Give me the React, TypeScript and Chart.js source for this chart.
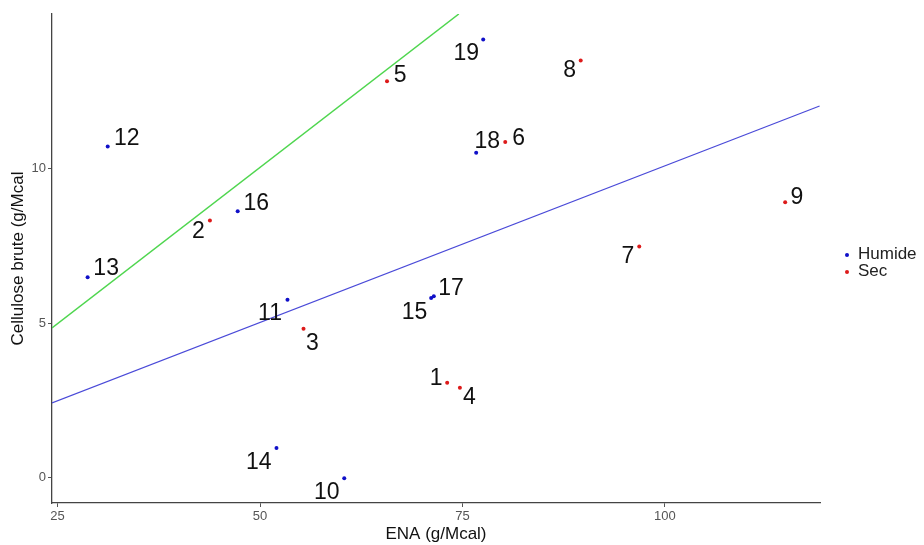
import React, { useEffect, useRef } from "react";
import { Chart, registerables } from "chart.js";

Chart.register(...registerables);

// Data
const humideIds = ["10", "11", "12", "13", "14", "15", "16", "17", "18", "19"];
const humideX = [60.4, 53.39, 31.19, 28.71, 52.03, 71.13, 47.24, 71.46, 76.69, 77.56];
const humideY = [-0.01, 5.75, 10.7, 6.48, 0.97, 5.81, 8.61, 5.87, 10.5, 14.16];

const secIds = ["1", "2", "3", "4", "5", "6", "7", "8", "9"];
const secX = [73.11, 43.81, 55.37, 74.68, 65.68, 80.28, 96.83, 89.6, 114.85];
const secY = [3.07, 8.31, 4.82, 2.91, 12.81, 10.85, 7.47, 13.48, 8.9];

const greenLineX = [24.31, 74.55];
const greenLineY = [4.84, 14.98];
const blueLineX = [24.31, 119.1];
const blueLineY = [2.42, 12.01];

const xTicks = [25, 50, 75, 100];
const yTicks = [0, 5, 10];
const seriesNames = ["Humide", "Sec"];

// Label offsets (px) – styling of the text labels
const labelOffsets: Record<string, [number, number]> = {
  "1": [-11, -6.3],
  "2": [-11.5, 9.3],
  "3": [9, 12.7],
  "4": [9.6, 8.2],
  "5": [13.2, -7],
  "6": [13.3, -5.3],
  "7": [-11.4, 7.8],
  "8": [-11, 8],
  "9": [11.7, -6.1],
  "10": [-17.5, 12.6],
  "11": [-17.5, 11.7],
  "12": [19, -10],
  "13": [18.5, -10.6],
  "14": [-17.7, 12.7],
  "15": [-16.7, 12.4],
  "16": [18.5, -9.6],
  "17": [17.3, -9.6],
  "18": [11.2, -12.7],
  "19": [-17, 12.7],
};

const HUMIDE_COLOR = "#1010c8";
const SEC_COLOR = "#dd1a1a";
const FONT = "'Liberation Sans', Arial, Helvetica, sans-serif";

const labelsPlugin = {
  id: "pointLabels",
  afterDatasetsDraw(chart: any) {
    const ctx = chart.ctx;
    const xs = chart.scales.x;
    const ys = chart.scales.y;
    ctx.save();
    ctx.font = `23px ${FONT}`;
    ctx.fillStyle = "#111";
    ctx.textAlign = "center";
    ctx.textBaseline = "alphabetic";
    const drawSet = (ids: string[], X: number[], Y: number[]) => {
      ids.forEach((id, i) => {
        const px = xs.getPixelForValue(X[i]);
        const py = ys.getPixelForValue(Y[i]);
        const off = labelOffsets[id] || [10, -10];
        ctx.fillText(id, px + off[0], py + off[1] + 23 * 0.358);
      });
    };
    drawSet(humideIds, humideX, humideY);
    drawSet(secIds, secX, secY);
    ctx.restore();
  },
  afterDraw(chart: any) {
    const ctx = chart.ctx;
    ctx.save();
    const items = [
      { name: seriesNames[0], color: HUMIDE_COLOR, y: 254 },
      { name: seriesNames[1], color: SEC_COLOR, y: 271 },
    ];
    ctx.font = `17px ${FONT}`;
    ctx.textAlign = "left";
    ctx.textBaseline = "middle";
    items.forEach((it) => {
      ctx.beginPath();
      ctx.fillStyle = it.color;
      ctx.arc(847, it.y + 1, 2, 0, Math.PI * 2);
      ctx.fill();
      ctx.fillStyle = "#222";
      ctx.fillText(it.name, 858, it.y);
    });
    ctx.restore();
  },
};

export default function App() {
  const ref = useRef<HTMLCanvasElement>(null);
  useEffect(() => {
    const canvas = ref.current;
    if (!canvas) return;
    const chart = new Chart(canvas, {
      type: "scatter",
      data: {
        datasets: [
          {
            label: "green",
            type: "line",
            data: greenLineX.map((x, i) => ({ x, y: greenLineY[i] })),
            borderColor: "#4fd64f",
            borderWidth: 1.5,
            pointRadius: 0,
            fill: false,
            tension: 0,
          } as any,
          {
            label: "blue",
            type: "line",
            data: blueLineX.map((x, i) => ({ x, y: blueLineY[i] })),
            borderColor: "#4a4ad8",
            borderWidth: 1.2,
            pointRadius: 0,
            fill: false,
            tension: 0,
          } as any,
          {
            label: seriesNames[0],
            data: humideX.map((x, i) => ({ x, y: humideY[i] })),
            backgroundColor: HUMIDE_COLOR,
            borderColor: HUMIDE_COLOR,
            pointRadius: 2,
            borderWidth: 0,
          },
          {
            label: seriesNames[1],
            data: secX.map((x, i) => ({ x, y: secY[i] })),
            backgroundColor: SEC_COLOR,
            borderColor: SEC_COLOR,
            pointRadius: 2,
            borderWidth: 0,
          },
        ],
      },
      options: {
        animation: false,
        responsive: false,
        maintainAspectRatio: false,
        layout: { padding: { left: 4, right: 104, top: 14, bottom: 0 } },
        plugins: {
          legend: { display: false },
          tooltip: { enabled: false },
        },
        scales: {
          x: {
            type: "linear",
            min: 24.31,
            max: 119.15,
            afterBuildTicks: (scale: any) => {
              scale.ticks = xTicks.map((v) => ({ value: v }));
            },
            afterFit: (scale: any) => {
              scale.height = 42;
            },
            grid: {
              display: true,
              drawOnChartArea: false,
              drawTicks: true,
              tickLength: 4,
              color: "#555",
            },
            border: { display: true, color: "#444", width: 1.3 },
            ticks: {
              color: "#555",
              font: { size: 13, family: FONT },
              padding: 2,
              maxRotation: 0,
            },
            title: {
              display: true,
              text: "ENA (g/Mcal)",
              color: "#111",
              font: { size: 17, family: FONT },
              padding: { top: 0, bottom: 0 },
            },
          },
          y: {
            type: "linear",
            min: -0.81,
            max: 14.98,
            afterBuildTicks: (scale: any) => {
              scale.ticks = yTicks.map((v) => ({ value: v }));
            },
            afterFit: (scale: any) => {
              scale.width = 48;
            },
            grid: {
              display: true,
              drawOnChartArea: false,
              drawTicks: true,
              tickLength: 4,
              color: "#555",
            },
            border: { display: true, color: "#444", width: 1.3 },
            ticks: {
              color: "#555",
              font: { size: 13, family: FONT },
              padding: 2,
            },
            title: {
              display: true,
              text: "Cellulose brute (g/Mcal",
              color: "#111",
              font: { size: 17, family: FONT },
              padding: { top: 4, bottom: 4 },
            },
          },
        },
      },
      plugins: [labelsPlugin],
    });
    return () => chart.destroy();
  }, []);

  return (
    <div style={{ position: "fixed", left: 0, top: 0, width: 924, height: 545, background: "#fff" }}>
      <canvas ref={ref} width={924} height={545} style={{ width: 924, height: 545 }} />
    </div>
  );
}
